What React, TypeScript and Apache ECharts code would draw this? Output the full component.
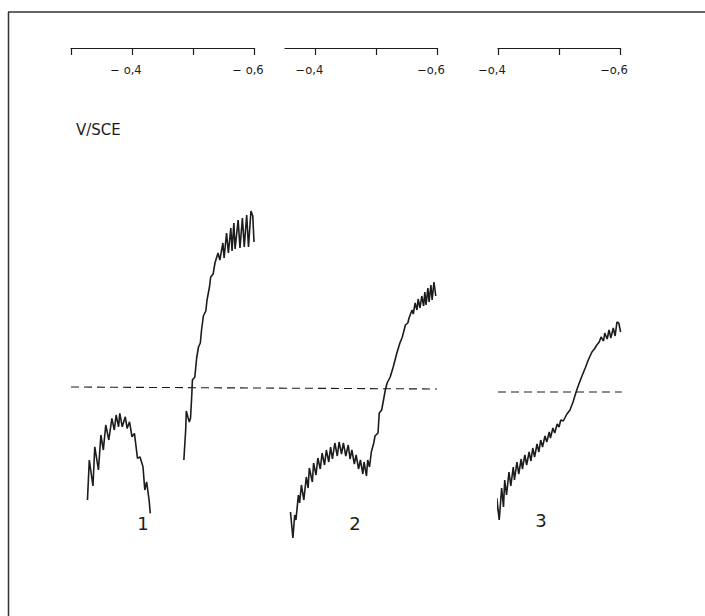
import React, { useEffect, useRef } from "react";
import * as echarts from "echarts";

// Potential (−V vs SCE, as magnitude) and current (arbitrary units, 0 = dashed line)
const curve1a: number[][] = [
  [0.327, -5.6], [0.33, -3.6], [0.336, -4.9], [0.339, -2.94], [0.345, -4.1], [0.349, -2.35],
  [0.353, -3.1], [0.357, -1.85], [0.362, -2.6], [0.367, -1.52], [0.371, -2.1], [0.374, -1.35],
  [0.378, -1.94], [0.38, -1.27], [0.384, -1.94], [0.389, -1.44], [0.392, -2.02], [0.396, -1.69],
  [0.4, -2.44], [0.404, -2.27], [0.409, -3.52], [0.413, -3.44], [0.418, -3.94], [0.421, -5.1],
  [0.424, -4.69], [0.428, -5.6], [0.43, -6.27],
];
const curve1b: number[][] = [
  [0.485, -3.6], [0.488, -2.1], [0.489, -1.15], [0.492, -1.5], [0.494, -1.7], [0.496, -1.5],
  [0.498, -0.35], [0.499, 0.4], [0.503, 0.55], [0.506, 1.5], [0.509, 2.05], [0.512, 2.25],
  [0.514, 2.9], [0.517, 3.6], [0.521, 3.85], [0.523, 4.4], [0.527, 5.05], [0.529, 5.55],
  [0.533, 5.7], [0.536, 6.25], [0.541, 6.75], [0.544, 6.4], [0.549, 7.25], [0.551, 6.5],
  [0.555, 7.75], [0.558, 6.75], [0.562, 8.0], [0.564, 6.85], [0.567, 8.25], [0.569, 6.95],
  [0.574, 8.4], [0.577, 7.0], [0.581, 8.5], [0.584, 7.05], [0.588, 8.65], [0.591, 7.05],
  [0.595, 8.85], [0.598, 8.6], [0.6, 7.3],
];
const curve2: number[][] = [
  [0.359, -6.2], [0.363, -7.5], [0.366, -6.35], [0.368, -6.6], [0.372, -5.35], [0.374, -5.75],
  [0.377, -4.85], [0.381, -5.6], [0.385, -4.45], [0.388, -5.0], [0.39, -4.0], [0.395, -4.7],
  [0.397, -3.75], [0.401, -4.35], [0.404, -3.5], [0.408, -4.05], [0.411, -3.25], [0.415, -3.85],
  [0.418, -3.1], [0.422, -3.7], [0.425, -2.95], [0.428, -3.55], [0.432, -2.75], [0.436, -3.4],
  [0.439, -2.7], [0.443, -3.3], [0.446, -2.75], [0.45, -3.4], [0.454, -2.85], [0.457, -3.55],
  [0.46, -3.1], [0.464, -3.8], [0.467, -3.35], [0.471, -4.05], [0.474, -3.6], [0.478, -4.3],
  [0.48, -3.7], [0.484, -4.4], [0.486, -3.6], [0.489, -3.95], [0.492, -3.2], [0.496, -2.75],
  [0.498, -2.4], [0.503, -2.25], [0.505, -1.25], [0.509, -1.1], [0.515, -0.1], [0.518, 0.25],
  [0.523, 0.55], [0.528, 1.05], [0.534, 1.75], [0.539, 2.25], [0.543, 2.55], [0.548, 3.15],
  [0.552, 3.25], [0.554, 3.5], [0.559, 3.9], [0.561, 3.7], [0.564, 4.25], [0.567, 3.9],
  [0.569, 4.45], [0.572, 4.0], [0.575, 4.6], [0.578, 4.1], [0.58, 4.8], [0.582, 4.15],
  [0.585, 5.0], [0.587, 4.3], [0.59, 5.15], [0.592, 4.4], [0.595, 5.3], [0.598, 4.6],
];
const curve3: number[][] = [
  [0.395, -8.0], [0.398, -5.5], [0.402, -6.6], [0.406, -5.0], [0.409, -5.95], [0.411, -4.6],
  [0.414, -5.35], [0.418, -4.2], [0.421, -4.9], [0.425, -3.95], [0.427, -4.6], [0.431, -3.7],
  [0.434, -4.3], [0.438, -3.55], [0.44, -4.05], [0.444, -3.35], [0.447, -3.85], [0.451, -3.2],
  [0.454, -3.65], [0.457, -3.0], [0.46, -3.45], [0.464, -2.8], [0.467, -3.2], [0.47, -2.6],
  [0.473, -2.95], [0.477, -2.4], [0.48, -2.7], [0.484, -2.2], [0.486, -2.5], [0.49, -2.0],
  [0.493, -2.25], [0.497, -1.8], [0.5, -1.95], [0.503, -1.6], [0.507, -1.65], [0.513, -1.3],
  [0.518, -1.1], [0.523, -0.7], [0.528, -0.2], [0.532, 0.15], [0.537, 0.55], [0.543, 1.0],
  [0.548, 1.4], [0.554, 1.8], [0.558, 1.95], [0.562, 2.15], [0.566, 2.3], [0.569, 2.55],
  [0.573, 2.35], [0.575, 2.75], [0.579, 2.45], [0.582, 2.9], [0.585, 2.5], [0.589, 3.0],
  [0.592, 2.6], [0.595, 3.3], [0.598, 3.25], [0.601, 2.8],
];
const zeroLine12: number[][] = [[0, 0.05], [1, -0.05]];
const zeroLine3: number[][] = [[0.4, -0.2], [0.603, -0.2]];

const axis1Ticks = [0.3, 0.4, 0.5, 0.6];
const axis2Ticks = [0.4, 0.5, 0.6];
const axis3Ticks = [0.4, 0.5, 0.6];
const labelValues = [0.4, 0.6];
const axis1Labels = ["− o,4", "− o,6"];
const axis23Labels = ["−o,4", "−o,6"];
const curveNames = ["1", "2", "3"];
const yLabel = "V/SCE";

const INK = "#1c1c1c";
const FONT = "DejaVu Sans";

function makeXAxis(gridIndex: number, min: number, max: number, ticks: number[], labels: string[]) {
  return {
    type: "value",
    gridIndex,
    position: "top",
    min,
    max,
    axisLine: { show: true, onZero: false, lineStyle: { color: INK, width: 1.2 } },
    axisTick: { show: true, inside: true, length: 7, customValues: ticks, lineStyle: { color: INK, width: 1.2 } },
    axisLabel: {
      show: true,
      inside: true,
      margin: 16,
      customValues: labelValues,
      color: INK,
      fontFamily: FONT,
      fontSize: 11.5,
      padding: [0, 12, 0, 0],
      formatter: (v: number) => {
        const idx = labelValues.findIndex((x) => Math.abs(x - v) < 1e-6);
        return idx >= 0 ? labels[idx] : "";
      },
    },
    splitLine: { show: false },
  };
}

function makeYAxis(gridIndex: number) {
  return { type: "value", gridIndex, min: -10.6, max: 17, show: false };
}

export default function App() {
  const ref = useRef<HTMLDivElement>(null);
  useEffect(() => {
    if (!ref.current) return;
    const chart = echarts.init(ref.current, undefined, { renderer: "svg" });
    const lineSeries = (data: number[][], idx: number, dashed = false) => ({
      type: "line",
      xAxisIndex: idx,
      yAxisIndex: idx,
      data,
      symbol: "none",
      clip: false,
      silent: true,
      lineStyle: dashed
        ? { color: INK, width: 1.1, type: [8, 5] }
        : { color: INK, width: 1.6 },
    });
    chart.setOption({
      animation: false,
      backgroundColor: "#ffffff",
      grid: [
        { left: 71, width: 183, top: 48, height: 552 },
        { left: 285, width: 152, top: 48, height: 552 },
        { left: 498, width: 122, top: 48, height: 552 },
        { left: 71, width: 366, top: 48, height: 552 },
      ],
      xAxis: [
        makeXAxis(0, 0.3, 0.6, axis1Ticks, axis1Labels),
        makeXAxis(1, 0.35, 0.6, axis2Ticks, axis23Labels),
        makeXAxis(2, 0.4, 0.6, axis3Ticks, axis23Labels),
        { type: "value", gridIndex: 3, min: 0, max: 1, show: false },
      ],
      yAxis: [makeYAxis(0), makeYAxis(1), makeYAxis(2), makeYAxis(3)],
      series: [
        lineSeries(zeroLine12, 3, true),
        lineSeries(zeroLine3, 2, true),
        lineSeries(curve1a, 0),
        lineSeries(curve1b, 0),
        lineSeries(curve2, 1),
        lineSeries(curve3, 2),
      ],
      graphic: [
        { type: "line", shape: { x1: 8, y1: 12, x2: 705, y2: 12 }, style: { stroke: "#333", lineWidth: 1.5 } },
        { type: "line", shape: { x1: 8.5, y1: 12, x2: 8.5, y2: 616 }, style: { stroke: "#333", lineWidth: 1.5 } },
        { type: "text", left: 76, top: 122, style: { text: yLabel, fill: INK, font: `15px '${FONT}'` } },
        { type: "text", x: 143, y: 523, style: { text: curveNames[0], fill: INK, font: `18px '${FONT}'`, align: "center", verticalAlign: "middle" } },
        { type: "text", x: 355, y: 523, style: { text: curveNames[1], fill: INK, font: `18px '${FONT}'`, align: "center", verticalAlign: "middle" } },
        { type: "text", x: 541, y: 520, style: { text: curveNames[2], fill: INK, font: `18px '${FONT}'`, align: "center", verticalAlign: "middle" } },
      ],
    });
    return () => chart.dispose();
  }, []);
  return <div ref={ref} style={{ position: "fixed", left: 0, top: 0, width: 705, height: 616 }} />;
}
